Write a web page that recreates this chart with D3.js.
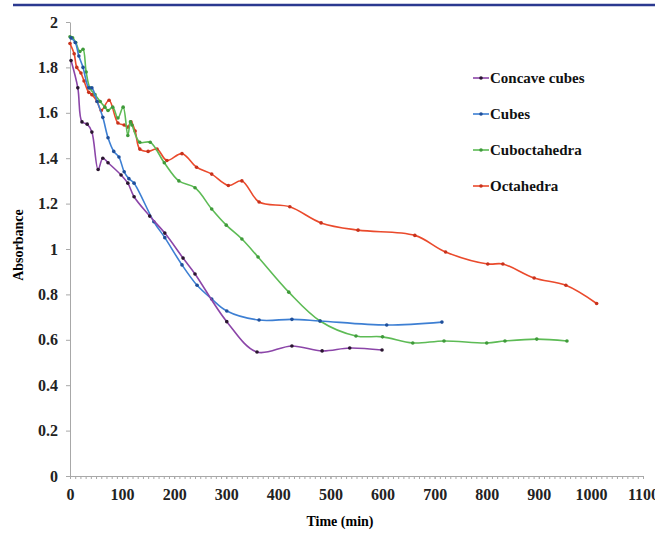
<!DOCTYPE html>
<html>
<head>
<meta charset="utf-8">
<script src="https://cdnjs.cloudflare.com/ajax/libs/d3/7.8.5/d3.min.js"></script>
<style>
  body { margin: 0; background: #fff; }
  svg { display: block; }
  .axis path, .axis line { stroke: #a8a8a8; }
</style>
</head>
<body>
<script>
//chart data
var seriesNames = ["Concave cubes", "Cubes", "Cuboctahedra", "Octahedra"];

var concaveT = [2, 15, 23, 33, 42, 54, 63, 73, 98, 111, 123, 153, 182, 217, 240, 301, 359, 426, 484, 537, 599];
var concaveA = [1.83, 1.71, 1.56, 1.55, 1.515, 1.35, 1.40, 1.38, 1.326, 1.29, 1.23, 1.145, 1.07, 0.96, 0.89, 0.68, 0.546, 0.573, 0.551, 0.564, 0.555];

var cubesT = [2, 10, 17, 25, 36, 42, 52, 63, 73, 84, 94, 104, 113, 123, 161, 182, 215, 244, 272, 301, 363, 426, 480, 608, 714];
var cubesA = [1.93, 1.91, 1.85, 1.80, 1.71, 1.71, 1.65, 1.58, 1.49, 1.43, 1.405, 1.34, 1.31, 1.29, 1.12, 1.05, 0.93, 0.84, 0.78, 0.727, 0.687, 0.69, 0.683, 0.665, 0.678];

var cuboT = [0, 5, 11, 19, 25, 31, 38, 48, 58, 67, 73, 82, 92, 102, 111, 116, 119, 134, 154, 181, 209, 240, 272, 300, 330, 361, 420, 480, 549, 600, 658, 718, 800, 835, 896, 954];
var cuboA = [1.935, 1.93, 1.91, 1.87, 1.88, 1.78, 1.71, 1.68, 1.65, 1.625, 1.61, 1.625, 1.577, 1.625, 1.50, 1.56, 1.546, 1.47, 1.47, 1.38, 1.30, 1.27, 1.176, 1.105, 1.044, 0.965, 0.81, 0.683, 0.617, 0.613, 0.586, 0.595, 0.586, 0.595, 0.603, 0.595];

var octaT = [0, 8, 13, 21, 27, 36, 42, 52, 60, 75, 92, 104, 111, 117, 125, 134, 150, 167, 186, 215, 243, 272, 304, 330, 363, 422, 482, 553, 662, 721, 802, 831, 891, 952, 1011];
var octaA = [1.905, 1.86, 1.80, 1.775, 1.74, 1.69, 1.68, 1.65, 1.61, 1.655, 1.555, 1.546, 1.537, 1.56, 1.52, 1.44, 1.43, 1.44, 1.39, 1.42, 1.36, 1.33, 1.28, 1.30, 1.207, 1.186, 1.115, 1.083, 1.06, 0.987, 0.934, 0.934, 0.872, 0.84, 0.76];

var xTicks = [0, 100, 200, 300, 400, 500, 600, 700, 800, 900, 1000, 1100];
var yTicks = [0, 0.2, 0.4, 0.6, 0.8, 1, 1.2, 1.4, 1.6, 1.8, 2];

var lineColors = ["#8b45a8", "#3d7fd3", "#5dbb55", "#ea4a2c"];
var dotColors = ["#2a1530", "#1f4f9a", "#3f9a3a", "#c8321c"];

var serif = "'Liberation Serif', 'Times New Roman', 'DejaVu Serif', serif";

window.onload = drawChart();

function drawChart(){
    var width = 655,
        height = 533;

    var svg = d3.select("body")
        .append("svg")
        .attr("width", width)
        .attr("height", height)
        .style("font-family", serif);

    //journal header rule
    svg.append("line")
        .attr("x1", 13).attr("x2", width)
        .attr("y1", 5).attr("y2", 5)
        .attr("stroke", "#2b3990")
        .attr("stroke-width", 2.5);

    var x = d3.scaleLinear().domain([0, 1100]).range([70, 643]);
    var y = d3.scaleLinear().domain([0, 2]).range([476, 22]);

    //minor ticks along the time axis
    svg.append("g")
        .attr("class", "axis")
        .attr("transform", "translate(0,476)")
        .call(d3.axisBottom(x).ticks(110).tickSize(3).tickFormat(""))
        .select(".domain").remove();

    var xAxis = svg.append("g")
        .attr("class", "axis")
        .attr("transform", "translate(0,476)")
        .call(d3.axisBottom(x).tickValues(xTicks).tickSizeInner(3).tickSizeOuter(0).tickPadding(10)
            .tickFormat(d3.format("d")));

    var yAxis = svg.append("g")
        .attr("class", "axis")
        .attr("transform", "translate(70,0)")
        .call(d3.axisLeft(y).tickValues(yTicks).tickSizeInner(4).tickSizeOuter(0).tickPadding(8)
            .tickFormat(function(d){ return String(+d.toFixed(1)); }));

    [xAxis, yAxis].forEach(function(a){
        a.attr("font-family", serif).attr("font-size", 16);
        a.selectAll("text")
            .style("font-family", serif)
            .style("font-weight", "bold")
            .style("font-size", "16px")
            .attr("fill", "#222");
    });

    //axis titles
    svg.append("text")
        .attr("x", 340).attr("y", 526)
        .attr("text-anchor", "middle")
        .style("font-family", serif).style("font-weight", "bold").style("font-size", "14px")
        .text("Time (min)");

    svg.append("text")
        .attr("transform", "translate(23,245) rotate(-90)")
        .attr("text-anchor", "middle")
        .style("font-family", serif).style("font-weight", "bold").style("font-size", "14px")
        .text("Absorbance");

    var series = [
        d3.zip(concaveT, concaveA),
        d3.zip(cubesT, cubesA),
        d3.zip(cuboT, cuboA),
        d3.zip(octaT, octaA)
    ];

    var line = d3.line()
        .x(function(d){ return x(d[0]); })
        .y(function(d){ return y(d[1]); })
        .curve(d3.curveCatmullRom.alpha(0.5));

    //draw in reverse so the concave cubes sit on top
    [3, 2, 1, 0].forEach(function(i){
        var g = svg.append("g");
        g.append("path")
            .datum(series[i])
            .attr("d", line)
            .attr("fill", "none")
            .attr("stroke", lineColors[i])
            .attr("stroke-width", 1.6);
        g.selectAll("circle")
            .data(series[i])
            .enter()
            .append("circle")
            .attr("cx", function(d){ return x(d[0]); })
            .attr("cy", function(d){ return y(d[1]); })
            .attr("r", 1.8)
            .attr("fill", dotColors[i]);
    });

    //legend
    var legend = svg.append("g");
    var legendY = d3.scalePoint().domain(seriesNames).range([78, 186]);
    seriesNames.forEach(function(name, i){
        var ly = legendY(name);
        legend.append("line")
            .attr("x1", 473).attr("x2", 489)
            .attr("y1", ly).attr("y2", ly)
            .attr("stroke", lineColors[i])
            .attr("stroke-width", 1.6);
        legend.append("circle")
            .attr("cx", 481).attr("cy", ly).attr("r", 1.8)
            .attr("fill", dotColors[i]);
        legend.append("text")
            .attr("x", 490).attr("y", ly + 5)
            .style("font-family", serif).style("font-weight", "bold").style("font-size", "15px")
            .attr("fill", "#111")
            .text(name);
    });
}
</script>
</body>
</html>
